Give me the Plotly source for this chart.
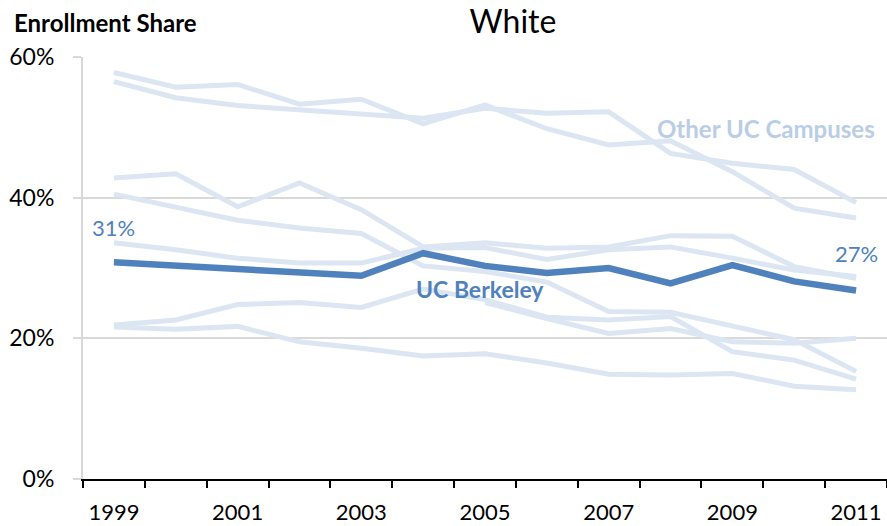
import plotly.graph_objects as go

years = list(range(1999, 2012))
label_years = [y for y in years if y % 2 == 1]
label_text = [str(y) for y in label_years]

berkeley = [30.8, 30.3, 29.8, 29.3, 28.9, 32.1, 30.3, 29.3, 30.0, 27.8, 30.4, 28.1, 26.8]

other_campuses = {
    "Campus A": [57.8, 55.7, 56.1, 53.3, 54.0, 50.5, 53.2, 49.8, 47.5, 48.1, 43.7, 38.5, 37.1],
    "Campus B": [56.5, 54.2, 53.1, 52.5, 52.0, 51.3, 52.7, 52.0, 52.2, 46.3, 44.9, 44.0, 39.3],
    "Campus C": [42.8, 43.4, 38.7, 42.1, 38.3, 33.0, 33.6, 32.8, 33.0, 34.6, 34.5, 30.2, 28.5],
    "Campus D": [40.5, 38.7, 36.8, 35.7, 34.9, 30.3, 29.5, 28.0, 23.8, 23.7, 21.7, 19.8, 15.3],
    "Campus E": [21.9, 22.6, 24.8, 25.1, 24.4, 27.0, 25.5, 23.0, 22.6, 23.1, 18.1, 16.9, 14.2],
    "Campus F": [21.6, 21.3, 21.7, 19.5, 18.6, 17.5, 17.8, 16.5, 14.9, 14.8, 15.0, 13.2, 12.7],
    "Campus G": [33.6, 32.6, 31.4, 30.7, 30.7, 32.8, 32.9, 31.2, 32.6, 33.0, 31.4, 29.7, 28.8],
    "Merced":   [None, None, None, None, None, None, 25.1, 22.8, 20.7, 21.4, 19.5, 19.3, 20.0],
}

y_ticks = [0, 20, 40, 60]
y_tick_labels = [f"{v}%" for v in y_ticks]

DARK = "#4F81BD"
LIGHT = "#DCE6F2"
LABEL_LIGHT = "#B9CDE5"
FONT = "Lato"

x_min = years[0] - 0.5
x_max = years[-1] + 0.5
boundaries = [y - 0.5 for y in years] + [years[-1] + 0.5]

fig = go.Figure()
for name, vals in other_campuses.items():
    fig.add_trace(go.Scatter(x=years, y=vals, mode="lines", name=name,
                             line=dict(color=LIGHT, width=5), connectgaps=False,
                             hoverinfo="skip"))
fig.add_trace(go.Scatter(x=years, y=berkeley, mode="lines", name="UC Berkeley",
                         line=dict(color=DARK, width=6.5)))

annotations = [
    dict(x=years[0], y=berkeley[0] + 5.0, text=f"{round(berkeley[0])}%",
         showarrow=False, font=dict(family=FONT, size=22, color=DARK)),
    dict(x=years[-1], y=berkeley[-1] + 5.2, text=f"{round(berkeley[-1])}%",
         showarrow=False, font=dict(family=FONT, size=22, color=DARK)),
    dict(x=2004.92, y=27.0, text="<b>UC Berkeley</b>", showarrow=False,
         font=dict(family=FONT, size=23, color=DARK)),
    dict(x=2009.54, y=49.9, text="<b>Other UC Campuses</b>", showarrow=False,
         font=dict(family=FONT, size=24, color=LABEL_LIGHT)),
    dict(xref="paper", yref="paper", x=-71 / 804, y=1 + 34 / 422,
         xanchor="left", yanchor="middle", text="<b>Enrollment Share</b>",
         showarrow=False, font=dict(family=FONT, size=24, color="#000000")),
]

fig.update_layout(
    width=887, height=526,
    margin=dict(l=83, r=0, t=57, b=47, autoexpand=False),
    paper_bgcolor="white", plot_bgcolor="white",
    showlegend=False,
    title=dict(text="White", x=513 / 887, xanchor="center", y=1 - 22 / 526,
               yanchor="middle", font=dict(family=FONT, size=32, color="#000000")),
    annotations=annotations,
    font=dict(family=FONT, size=20, color="#000000"),
)

fig.update_xaxes(
    range=[x_min, x_max], automargin=False,
    tickmode="array", tickvals=label_years, ticktext=label_text, ticks="",
    minor=dict(tickmode="array", tickvals=boundaries, ticks="outside", ticklen=7,
               tickwidth=2, tickcolor="#000000", showgrid=False),
    showline=True, linecolor="#000000", linewidth=2,
    showgrid=False, zeroline=False,
    tickfont=dict(family=FONT, size=22, color="#000000"),
    ticklabelstandoff=13,
)
fig.update_yaxes(
    range=[0, 60], automargin=False,
    tickmode="array", tickvals=y_ticks, ticktext=y_tick_labels,
    ticks="outside", ticklen=8, tickcolor="#D9D9D9", tickwidth=2,
    showline=True, linecolor="#D9D9D9", linewidth=2,
    showgrid=True, gridcolor="#D9D9D9", gridwidth=2, zeroline=False,
    tickfont=dict(family=FONT, size=23, color="#000000"),
    ticklabelstandoff=14,
)

fig.write_html(
    "out.html",
    config={"displayModeBar": False},
    post_script="document.body.style.margin='0';document.body.style.padding='0';"
                "document.body.style.overflow='hidden';",
)
